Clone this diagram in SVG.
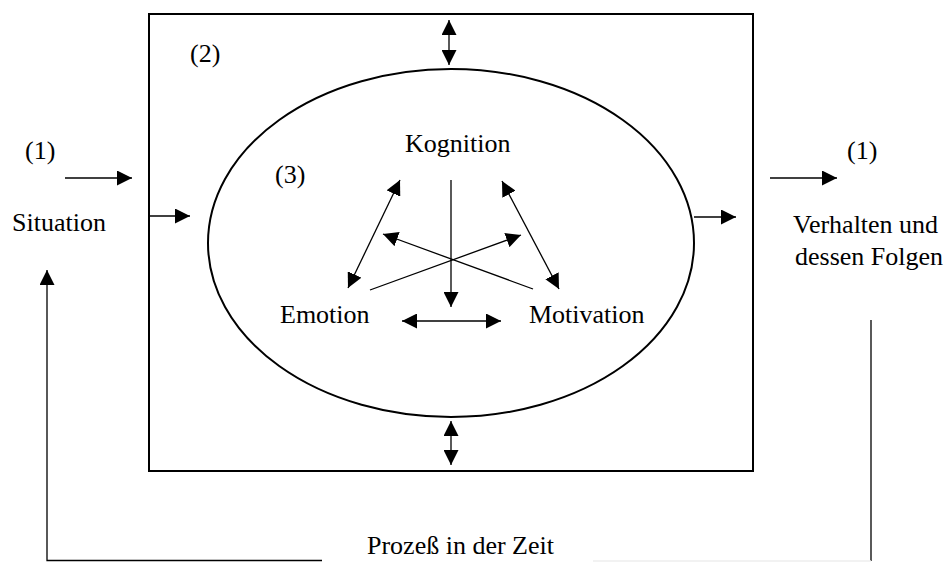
<svg xmlns="http://www.w3.org/2000/svg" width="947" height="562" viewBox="0 0 947 562">
<style>
text{font-family:"Liberation Serif","Times New Roman",serif;font-size:26px;fill:#000}
.ln{stroke:#000;stroke-width:1.3;fill:none}
.bd{stroke:#000;stroke-width:2;fill:none}
</style>
<defs>
<marker id="ah" markerUnits="userSpaceOnUse" markerWidth="15" markerHeight="15" refX="15" refY="7.5" orient="auto-start-reverse" viewBox="0 0 15 15">
<path d="M0,0 L15,7.5 L0,15 z" fill="#000"/>
</marker>
</defs>
<rect width="947" height="562" fill="#fff"/>
<g id="box2">
<rect class="bd" x="149" y="14" width="604" height="457"/>
<text x="190" y="62">(2)</text>
</g>
<g id="ellipse3">
<ellipse class="bd" cx="451" cy="243" rx="243" ry="174"/>
<text x="275" y="183">(3)</text>
</g>
<g id="kognition"><text x="405" y="152">Kognition</text></g>
<g id="emotion"><text x="280" y="323">Emotion</text></g>
<g id="motivation"><text x="529" y="323">Motivation</text></g>
<g id="situation">
<text x="25" y="159">(1)</text>
<text x="12" y="231">Situation</text>
</g>
<g id="verhalten">
<text x="847" y="159">(1)</text>
<text x="793" y="233">Verhalten und</text>
<text x="795" y="265">dessen Folgen</text>
</g>
<g id="prozess"><text x="367" y="554">Prozeß in der Zeit</text></g>
<g id="connectors">
<line class="ln" x1="65" y1="178" x2="132" y2="178" marker-end="url(#ah)"/>
<line class="ln" x1="150" y1="216" x2="190" y2="216" marker-end="url(#ah)"/>
<line class="ln" x1="694" y1="217" x2="736" y2="217" marker-end="url(#ah)"/>
<line class="ln" x1="770" y1="178" x2="837" y2="178" marker-end="url(#ah)"/>
<line class="ln" x1="449" y1="20" x2="449" y2="65" marker-start="url(#ah)" marker-end="url(#ah)"/>
<line class="ln" x1="451" y1="421" x2="451" y2="465" marker-start="url(#ah)" marker-end="url(#ah)"/>
<line class="ln" x1="451" y1="180" x2="451" y2="307" marker-end="url(#ah)"/>
<line class="ln" x1="400" y1="180" x2="348" y2="288" marker-start="url(#ah)" marker-end="url(#ah)"/>
<line class="ln" x1="502" y1="181" x2="559" y2="289" marker-start="url(#ah)" marker-end="url(#ah)"/>
<line class="ln" x1="370" y1="290" x2="521" y2="235" marker-end="url(#ah)"/>
<line class="ln" x1="533" y1="289" x2="383" y2="234" marker-end="url(#ah)"/>
<line class="ln" x1="402" y1="321" x2="501" y2="321" marker-start="url(#ah)" marker-end="url(#ah)"/>
<polyline class="ln" points="322,560.5 47,560.5 47,270" marker-end="url(#ah)"/>
<line class="ln" x1="871" y1="320" x2="871" y2="561"/>
<line x1="593" y1="561" x2="871" y2="561" stroke="#eeeeee" stroke-width="1.3"/>
</g>
</svg>
